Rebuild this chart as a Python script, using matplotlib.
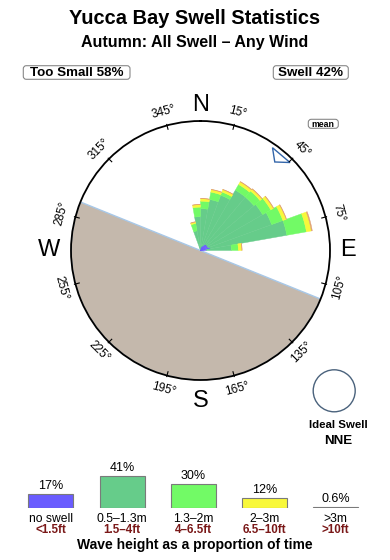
import numpy as np
import matplotlib
matplotlib.use('Agg')
import matplotlib.pyplot as plt
from matplotlib.patches import Circle, FancyBboxPatch

plt.rcParams['font.family'] = ['Liberation Sans', 'DejaVu Sans']

# ---------------- data ----------------
title = "Yucca Bay Swell Statistics"
subtitle = "Autumn: All Swell \u2013 Any Wind"
too_small_pct = 58
swell_pct = 42
ideal_swell = "NNE"
mean_dir = 40
land_from, land_to = 112, 292          # bearing range of land (degrees)

rose_dirs = [345, 355, 5, 15, 25, 35, 45, 55, 65, 75, 85]
rose_noswell = [1, 2, 3, 4, 5, 7, 8, 8, 8, 10, 6]
rose_0p5_1p3 = [19, 32, 39, 48, 54, 63, 62, 64, 68, 78, 25]
rose_1p3_2 = [7.5, 9.5, 7.5, 7.5, 3.5, 6.5, 8, 9.5, 12, 20, 7]
rose_2_3 = [1.5, 2.5, 2.5, 2.5, 2.5, 3, 2.5, 3, 3.5, 5, 3.5]
rose_gt3 = [0.4, 0.4, 0.4, 0.4, 0.4, 0.5, 0.5, 0.5, 0.5, 1, 0.3]
rose_width = 10

tick_degs = [15, 45, 75, 105, 135, 165, 195, 225, 255, 285, 315, 345]
cardinals = ['N', 'E', 'S', 'W']
cardinal_degs = [0, 90, 180, 270]

band_values = [17, 41, 30, 12, 0.6]
band_m = ['no swell', '0.5\u20131.3m', '1.3\u20132m', '2\u20133m', '>3m']
band_ft = ['<1.5ft', '1.5\u20134ft', '4\u20136.5ft', '6.5\u201310ft', '>10ft']
band_colors = ['#6a5cff', '#66cc8a', '#72fa66', '#f8f83a', '#b8a4a0']

# ---------------- figure ----------------
W, H = 390, 560
fig = plt.figure(figsize=(W / 100, H / 100), dpi=100)

cx, cy, rpx = 200.5, 250.5, 129.5
rmax = 130
ax = fig.add_axes([(cx - rpx) / W, 1 - (cy + rpx) / H, 2 * rpx / W, 2 * rpx / H],
                  projection='polar')
ax.set_theta_zero_location('N')
ax.set_theta_direction(-1)
ax.set_ylim(0, rmax)
ax.grid(False)
ax.set_xticks([])
ax.set_yticks([])
ax.spines['polar'].set_linewidth(1.3)
ax.spines['polar'].set_color('black')

# land
ax.bar(np.deg2rad((land_from + land_to) / 2), rmax, width=np.deg2rad(land_to - land_from),
       bottom=0, color='#c4b8ac', edgecolor='#a8c8e8', linewidth=1.0, zorder=1)

# rose
th = np.deg2rad(rose_dirs)
wd = np.deg2rad(rose_width)
layers = [rose_noswell, rose_0p5_1p3, rose_1p3_2, rose_2_3, rose_gt3]
rose_colors = ['#6a5cff', '#66cc8a', '#72fa66', '#f8f83a', '#e0a070']
bottom = np.zeros(len(rose_dirs))
for vals, col in zip(layers, rose_colors):
    vals = np.asarray(vals, float)
    ax.bar(th, vals, width=wd, bottom=bottom, color=col, edgecolor=col,
           linewidth=0.3, zorder=2)
    bottom = bottom + vals

# mean marker
md = np.deg2rad(mean_dir)
ax.fill([md, md - np.deg2rad(5), md + np.deg2rad(5.5)], [116, 126, 126],
        facecolor='white', edgecolor='#3366aa', linewidth=1.0, zorder=4)

# ticks and labels
for d in tick_degs:
    t = np.deg2rad(d)
    ax.plot([t, t], [rmax - 4, rmax + 1], color='black', lw=0.8, zorder=5, clip_on=False)
    rot = -d if (d < 90 or d > 270) else 180 - d
    ax.text(t, 144, f"{d}\u00b0", rotation=rot, rotation_mode='anchor',
            ha='center', va='center', fontsize=8.5, clip_on=False)
cardinal_r = [146, 148.5, 151, 152]
for lab, d, rr in zip(cardinals, cardinal_degs, cardinal_r):
    ax.text(np.deg2rad(d), rr, lab, ha='center', va='center', fontsize=17, clip_on=False)

# ---------------- overlay (pixel coordinates) ----------------
ov = fig.add_axes([0, 0, 1, 1])
ov.set_xlim(0, W)
ov.set_ylim(H, 0)
ov.axis('off')

ov.text(195, 18.5, title, ha='center', va='center', fontsize=14.4, fontweight='bold')
ov.text(195, 42.7, subtitle, ha='center', va='center', fontsize=11.5, fontweight='bold')

for (x0, y0, w, h), txt, fs in [((23.3, 65.7, 106.7, 13.6), f"Too Small {too_small_pct}%", 9.6),
                                ((273.3, 65.7, 75.0, 13.6), f"Swell {swell_pct}%", 9.6),
                                ((308.3, 119.3, 30.0, 9.0), "mean", 6.3)]:
    ov.add_patch(FancyBboxPatch((x0, y0), w, h, boxstyle='round,pad=0,rounding_size=3',
                                facecolor='white', edgecolor='#888888', linewidth=0.8))
    ov.text(x0 + w / 2, y0 + h / 2 + 0.5, txt, ha='center', va='center', fontsize=fs,
            fontweight='bold')

ov.add_patch(Circle((334.2, 390.8), 21, facecolor='none', edgecolor='#4a627c', linewidth=1.0))
ov.text(338, 425, "Ideal Swell", ha='center', va='center', fontsize=8.2, fontweight='bold')
ov.text(338, 440.7, ideal_swell, ha='center', va='center', fontsize=9.6, fontweight='bold')
ov.text(195, 545, "Wave height as a proportion of time", ha='center', va='center',
        fontsize=10, fontweight='bold')

# ---------------- legend bar chart ----------------
x_left, pitch, base_y = 15.2, 71.2, 507.5
lg = fig.add_axes([x_left / W, 1 - base_y / H, 5 * pitch / W, 39 / H])
lg.set_xlim(-0.5, 4.5)
lg.set_ylim(0, 50)
lg.axis('off')
xs = np.arange(len(band_values))
lg.bar(xs, band_values, width=45 / pitch, color=band_colors, edgecolor='#7a7a7a', linewidth=0.8)
for i, v in enumerate(band_values):
    lg.annotate(f"{v:g}%", xy=(i, v), xytext=(0, 5), textcoords='offset pixels',
                ha='center', va='baseline', fontsize=9, annotation_clip=False)
    lg.annotate(band_m[i], xy=(i, 0), xytext=(0, -11), textcoords='offset pixels',
                ha='center', va='center', fontsize=8.7, annotation_clip=False)
    lg.annotate(band_ft[i], xy=(i, 0), xytext=(0, -22.5), textcoords='offset pixels',
                ha='center', va='center', fontsize=8.4, fontweight='bold', color='#7a1818',
                annotation_clip=False)

fig.savefig('out.png', dpi=100)
